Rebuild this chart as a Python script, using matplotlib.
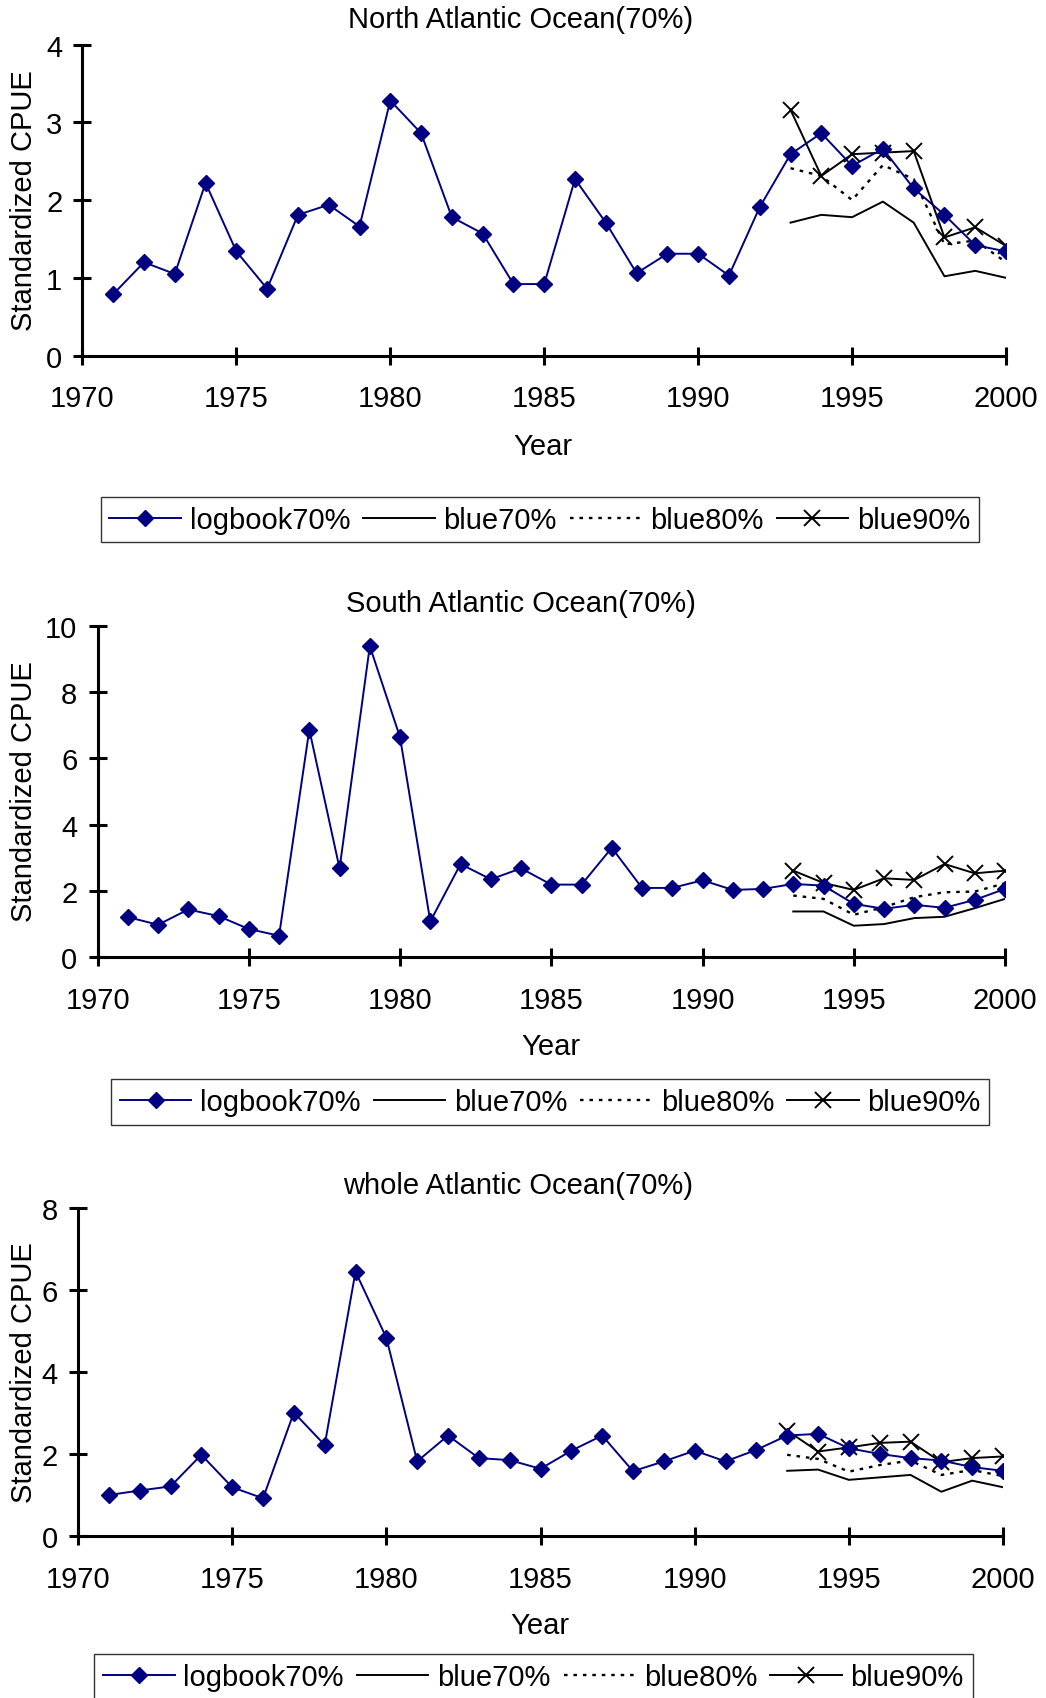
import matplotlib
matplotlib.use("Agg")
import matplotlib.pyplot as plt

plt.rcParams['font.family'] = ['Liberation Sans', 'DejaVu Sans']

years = list(range(1971, 2001))
blue_years = list(range(1993, 2001))

# North Atlantic
na_logbook = [0.79, 1.20, 1.05, 2.22, 1.34, 0.86, 1.81, 1.94, 1.66, 3.28,
              2.86, 1.78, 1.57, 0.92, 0.92, 2.27, 1.71, 1.06, 1.31, 1.31,
              1.03, 1.91, 2.59, 2.86, 2.44, 2.66, 2.15, 1.81, 1.42, 1.34]
na_blue70 = [1.71, 1.81, 1.78, 1.98, 1.71, 1.02, 1.09, 1.00]
na_blue80 = [2.41, 2.31, 2.00, 2.45, 2.27, 1.43, 1.48, 1.20]
na_blue90 = [3.16, 2.31, 2.59, 2.61, 2.63, 1.52, 1.65, 1.41]

# South Atlantic
sa_logbook = [1.21, 0.98, 1.44, 1.24, 0.85, 0.65, 6.86, 2.68, 9.38, 6.63,
              1.08, 2.81, 2.35, 2.68, 2.19, 2.19, 3.30, 2.09, 2.09, 2.32,
              2.03, 2.06, 2.21, 2.16, 1.61, 1.46, 1.58, 1.49, 1.73, 2.06]
sa_blue70 = [1.38, 1.38, 0.95, 1.00, 1.18, 1.22, 1.48, 1.76]
sa_blue80 = [1.86, 1.76, 1.28, 1.51, 1.81, 1.96, 1.98, 2.23]
sa_blue90 = [2.61, 2.24, 2.03, 2.38, 2.33, 2.81, 2.53, 2.61]

# Whole Atlantic
wa_logbook = [1.00, 1.11, 1.21, 1.98, 1.19, 0.92, 3.01, 2.22, 6.44, 4.83,
              1.82, 2.45, 1.90, 1.85, 1.64, 2.08, 2.45, 1.58, 1.82, 2.08,
              1.82, 2.10, 2.45, 2.49, 2.14, 2.00, 1.90, 1.84, 1.68, 1.59]
wa_blue70 = [1.59, 1.62, 1.37, 1.43, 1.49, 1.08, 1.35, 1.19]
wa_blue80 = [1.98, 1.88, 1.57, 1.73, 1.84, 1.49, 1.61, 1.46]
wa_blue90 = [2.57, 2.06, 2.16, 2.27, 2.30, 1.80, 1.90, 1.94]

titles = ["North Atlantic Ocean(70%)", "South Atlantic Ocean(70%)", "whole Atlantic Ocean(70%)"]
ymaxes = [4, 10, 8]
ysteps = [1, 2, 2]
xticks = [1970, 1975, 1980, 1985, 1990, 1995, 2000]
labels = ["logbook70%", "blue70%", "blue80%", "blue90%"]

FS = 21
W, H = 1046, 1699
fig = plt.figure(figsize=(W / 100, H / 100), dpi=100)

# axes rectangles (figure fraction)
rects = [
    [0.0788, 0.7901, 0.8830, 0.1831],
    [0.0933, 0.4360, 0.8675, 0.1952],
    [0.0746, 0.0953, 0.8843, 0.1933],
]
title_pos = [(0.498, 0.9880), (0.498, 0.6445), (0.495, 0.3022)]
ylab_pos = [(0.023, 0.882), (0.023, 0.534), (0.023, 0.192)]
xlab_pos = [(0.519, 0.7371), (0.5265, 0.3838), (0.516, 0.0430)]
leg_pos = [(0.516, 0.6935), (0.526, 0.3508), (0.510, 0.0125)]

data = [
    (na_logbook, na_blue70, na_blue80, na_blue90),
    (sa_logbook, sa_blue70, sa_blue80, sa_blue90),
    (wa_logbook, wa_blue70, wa_blue80, wa_blue90),
]

navy = "#000080"
for i in range(3):
    ax = fig.add_axes(rects[i])
    lb, b70, b80, b90 = data[i]
    h1, = ax.plot(years, lb, color=navy, lw=1.4, marker="D", ms=8.5,
                  markerfacecolor=navy, markeredgecolor=navy, zorder=3)
    h2, = ax.plot(blue_years, b70, color="black", lw=1.4)
    h3, = ax.plot(blue_years, b80, color="black", lw=1.7, linestyle=(0, (1.5, 2.5)))
    h4, = ax.plot(blue_years, b90, color="black", lw=1.4, marker="x", ms=12,
                  markeredgewidth=1.4)
    ax.set_xlim(1970, 2000)
    ax.set_ylim(0, ymaxes[i])
    ax.set_xticks(xticks)
    ax.set_yticks(list(range(0, ymaxes[i] + 1, ysteps[i])))
    for s in ["top", "right"]:
        ax.spines[s].set_visible(False)
    for s in ["left", "bottom"]:
        ax.spines[s].set_linewidth(2.2)
    ax.tick_params(axis="both", direction="inout", length=13, width=2.2,
                   labelsize=FS)
    ax.tick_params(axis="x", pad=14)
    ax.tick_params(axis="y", pad=8)
    ax.patch.set_visible(False)

    fig.text(*title_pos[i], titles[i], ha="center", va="center", fontsize=FS)
    fig.text(*ylab_pos[i], "Standardized CPUE", ha="center", va="center",
             rotation=90, fontsize=FS)
    fig.text(*xlab_pos[i], "Year", ha="center", va="center", fontsize=FS)
    leg = fig.legend([h1, h2, h3, h4], labels, loc="center",
                     bbox_to_anchor=leg_pos[i], ncol=4, fontsize=FS,
                     frameon=True, fancybox=False, edgecolor="black",
                     handlelength=2.45, handletextpad=0.3, columnspacing=0.45,
                     borderpad=0.3, borderaxespad=0)
    leg.get_frame().set_linewidth(1.0)

fig.savefig("out.png", dpi=100)
